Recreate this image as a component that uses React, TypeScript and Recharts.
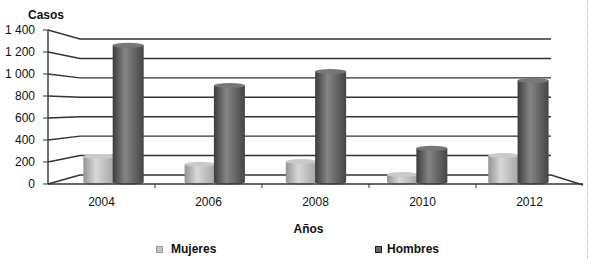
import React from 'react';
import { BarChart, Bar, XAxis, YAxis, CartesianGrid, Legend } from 'recharts';

const years = ['2004', '2006', '2008', '2010', '2012'];
const mujeres = [250, 180, 205, 86, 259];
const hombres = [1262, 895, 1023, 325, 941];
const yTicks = [0, 200, 400, 600, 800, 1000, 1200, 1400];

const data = years.map((y, i) => ({ year: y, Mujeres: mujeres[i], Hombres: hombres[i] }));

const W = 589;
const H = 259;
const PLOT_LEFT = 48;
const PLOT_RIGHT = 583;
const PLOT_TOP = 30;
const PLOT_BOTTOM = 184;
const BACK_TOP = 39;
const BACK_BOTTOM = 175;
const DEPTH_X = 32;
const MID_X = (PLOT_LEFT + PLOT_RIGHT) / 2;
const PERSP_K = 0.946;
const HALF_BAND = (PLOT_RIGHT - PLOT_LEFT) / years.length / 2;
const FONT = '"Liberation Sans", Arial, sans-serif';

const fmt = (v: number) => String(v).replace(/\B(?=(\d{3})+(?!\d))/g, ' ');

const backY = (y: number) =>
  BACK_BOTTOM - ((PLOT_BOTTOM - y) * (BACK_BOTTOM - BACK_TOP)) / (PLOT_BOTTOM - PLOT_TOP);

const wallLine = (p: any) => {
  const yb = backY(p.y1);
  const isFloor = Math.abs(p.y1 - PLOT_BOTTOM) < 1;
  const xl = p.x1 + DEPTH_X;
  const xr = p.x2 - DEPTH_X;
  return (
    <g key={p.key}>
      <polyline
        points={`${p.x1},${p.y1} ${xl},${yb} ${xr},${yb}`}
        fill="none"
        stroke="#333"
        strokeWidth={1.4}
      />
      {isFloor && (
        <line x1={xr} y1={yb} x2={p.x2} y2={p.y1 + 1} stroke="#333" strokeWidth={1.4} />
      )}
    </g>
  );
};

const makeShape = (id: string, topFill: string) => (props: any) => {
  const { x, y, width, height } = props;
  if (width == null || height == null) return <g />;
  const c0 = x + width / 2;
  const cx = MID_X + (c0 - MID_X) * PERSP_K;
  const rx = width / 2;
  const left = cx - rx;
  return (
    <g>
      <ellipse cx={cx} cy={y + height - 2} rx={rx} ry={2.5} fill={`url(#${id})`} />
      <rect x={left} y={y} width={width} height={Math.max(height - 2, 0)} fill={`url(#${id})`} />
      <ellipse cx={cx} cy={y} rx={rx} ry={2.5} fill={topFill} />
    </g>
  );
};

const XTick = (props: any) => {
  const { x, y, payload, index } = props;
  return (
    <g>
      {index < years.length - 1 && (
        <line x1={x + HALF_BAND} y1={PLOT_BOTTOM} x2={x + HALF_BAND} y2={PLOT_BOTTOM + 4} stroke="#333" strokeWidth={1} />
      )}
      <text x={x} y={y} dy="0.71em" textAnchor="middle" fill="#111" fontSize={12} fontFamily={FONT}>
        {payload.value}
      </text>
    </g>
  );
};

const LegendContent = () => (
  <div style={{ position: 'relative', width: W, height: 20, fontFamily: FONT, fontSize: 12, fontWeight: 'bold', color: '#111' }}>
    <div style={{ position: 'absolute', left: 156, top: 6, width: 5, height: 5, background: '#c4c4c4', border: '1px solid #999' }} />
    <div style={{ position: 'absolute', left: 171, top: 2, lineHeight: '14px' }}>Mujeres</div>
    <div style={{ position: 'absolute', left: 375, top: 6, width: 5, height: 5, background: '#6a6a6a', border: '1px solid #222' }} />
    <div style={{ position: 'absolute', left: 387, top: 2, lineHeight: '14px' }}>Hombres</div>
  </div>
);

export default function App() {
  return (
    <div style={{ position: 'absolute', left: 0, top: 0, width: W, height: H, background: '#fff', overflow: 'hidden' }}>
      <BarChart
        width={W}
        height={H}
        data={data}
        margin={{ top: PLOT_TOP, right: W - PLOT_RIGHT, left: 0, bottom: 0 }}
        barCategoryGap={23}
        barGap={0}
      >
        <defs>
          <linearGradient id="gM" x1="0" y1="0" x2="1" y2="0">
            <stop offset="0%" stopColor="#949494" />
            <stop offset="40%" stopColor="#d8d8d8" />
            <stop offset="100%" stopColor="#a4a4a4" />
          </linearGradient>
          <linearGradient id="gH" x1="0" y1="0" x2="1" y2="0">
            <stop offset="0%" stopColor="#3c3c3c" />
            <stop offset="40%" stopColor="#858585" />
            <stop offset="100%" stopColor="#454545" />
          </linearGradient>
        </defs>
        <CartesianGrid vertical={false} horizontal={wallLine} />
        <XAxis
          dataKey="year"
          interval={0}
          height={55}
          tickLine={false}
          tickSize={0}
          tickMargin={13}
          axisLine={{ stroke: '#333', strokeWidth: 1.4 }}
          tick={<XTick />}
          label={{ value: 'Años', position: 'insideBottom', offset: 6, dx: -7, style: { fill: '#111', fontSize: 12, fontWeight: 'bold', fontFamily: FONT } }}
        />
        <YAxis
          width={PLOT_LEFT}
          domain={[0, 1400]}
          ticks={yTicks}
          interval={0}
          tickFormatter={fmt}
          tickSize={5}
          tickMargin={8}
          axisLine={{ stroke: '#333', strokeWidth: 1.4 }}
          tickLine={{ stroke: '#333' }}
          tick={{ fill: '#111', fontSize: 12, fontFamily: FONT }}
          label={{ value: 'Casos', position: 'top', offset: 11, dx: 22, style: { fill: '#111', fontSize: 12, fontWeight: 'bold', fontFamily: FONT } }}
        />
        <Legend verticalAlign="bottom" content={<LegendContent />} wrapperStyle={{ top: 240, left: 0, width: W, height: 20 }} />
        <Bar dataKey="Mujeres" fill="#c4c4c4" isAnimationActive={false} shape={makeShape('gM', '#cacaca')} />
        <Bar dataKey="Hombres" fill="#6a6a6a" isAnimationActive={false} shape={makeShape('gH', '#777')} />
      </BarChart>
      <div style={{ position: 'absolute', left: 587, top: 0, width: 0, height: H, borderLeft: '1px dotted #bbb' }} />
    </div>
  );
}
